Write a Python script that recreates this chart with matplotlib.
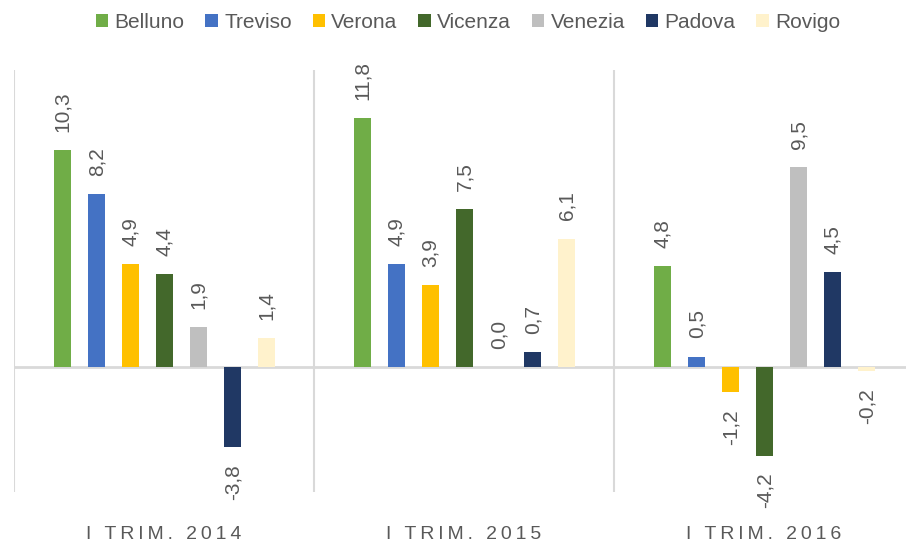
import matplotlib
matplotlib.use("Agg")
import matplotlib.pyplot as plt
from matplotlib.patches import Patch
import numpy as np

categories = ["I TRIM. 2014", "I TRIM. 2015", "I TRIM. 2016"]
provinces = ["Belluno", "Treviso", "Verona", "Vicenza", "Venezia", "Padova", "Rovigo"]
belluno = [10.3, 11.8, 4.8]
treviso = [8.2, 4.9, 0.5]
verona = [4.9, 3.9, -1.2]
vicenza = [4.4, 7.5, -4.2]
venezia = [1.9, 0.0, 9.5]
padova = [-3.8, 0.7, 4.5]
rovigo = [1.4, 6.1, -0.2]
series = [belluno, treviso, verona, vicenza, venezia, padova, rovigo]
colors = ["#70AD47", "#4472C4", "#FFC000", "#43682B", "#BFBFBF", "#203864", "#FFF2CC"]

plt.rcParams['font.family'] = ['Liberation Sans', 'DejaVu Sans']
text_color = "#595959"
grid_color = "#D9D9D9"

fig = plt.figure(figsize=(9.06, 5.44), dpi=100)
ax = fig.add_axes([14/906, 1 - 492/544, 900/906, 422/544])
ax.set_xlim(-0.5, 2.5)
ax.set_ylim(-5.93, 14.1)

x = np.arange(len(categories))
step = 34/300
width = 17/300
for i, (vals, c) in enumerate(zip(series, colors)):
    pos = x + (i - 3) * step
    ax.bar(pos, vals, width=width, color=c, zorder=3)
    for xp, v in zip(pos, vals):
        lab = f"{v:.1f}".replace(".", ",")
        if v >= 0:
            ax.annotate(lab, (xp, v), xytext=(0.5, 13), textcoords="offset points",
                        rotation=90, ha="center", va="bottom", fontsize=15,
                        color=text_color)
        else:
            ax.annotate(lab, (xp, v), xytext=(0.5, -12), textcoords="offset points",
                        rotation=90, ha="center", va="top", fontsize=15,
                        color=text_color)

ax.axhline(0, color=grid_color, lw=2, zorder=2)
for s in [-0.5, 0.5, 1.5, 2.5]:
    ax.axvline(s, color=grid_color, lw=1.5, zorder=1)

for sp in ax.spines.values():
    sp.set_visible(False)
ax.set_xticks([])
ax.set_yticks([])

for xi, cat in zip(x, categories):
    spaced = "\u2009".join(list(cat))
    ax.text(xi, -0.101, spaced, transform=ax.get_xaxis_transform(), ha="center",
            va="center", fontsize=14, color=text_color)

handles = [Patch(facecolor=c, edgecolor='none') for c in colors]
fig.legend(handles, provinces, loc="center", bbox_to_anchor=(468/906, 1 - 22/544),
           ncol=7, frameon=False, fontsize=15, labelcolor=text_color,
           handlelength=0.6, handleheight=0.6, handletextpad=0.3,
           columnspacing=1.0)

fig.savefig("out.png", dpi=100)
